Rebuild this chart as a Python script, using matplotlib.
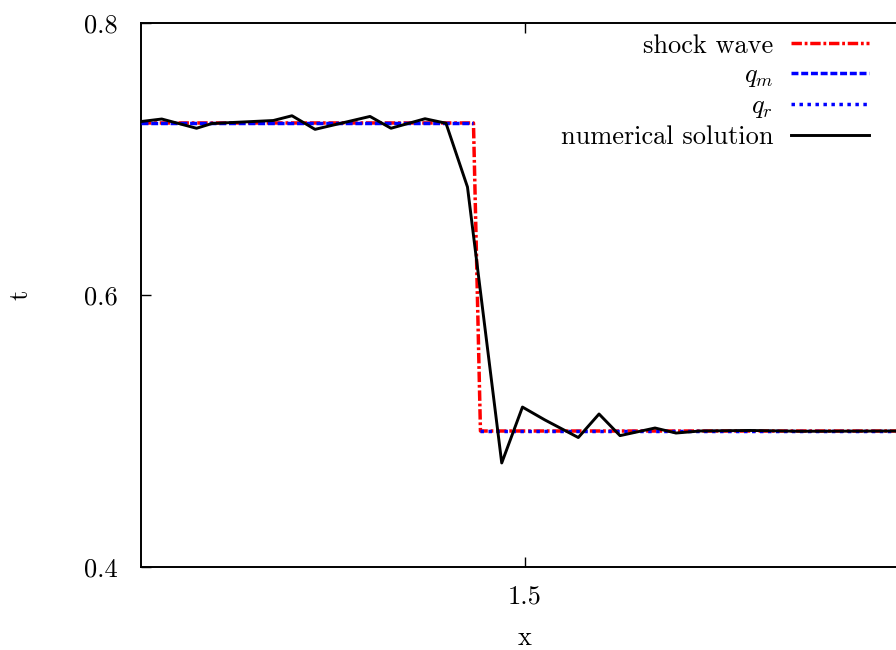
import numpy as np
import matplotlib
matplotlib.use("Agg")
import matplotlib.pyplot as plt

plt.rcParams['font.family'] = 'serif'
plt.rcParams['font.serif'] = ['cmr10']
plt.rcParams['mathtext.fontset'] = 'cm'
plt.rcParams['axes.formatter.use_mathtext'] = True

# shock wave (step)
shock_x = [1.0, 1.4329, 1.4420, 2.0]
shock_y = [0.7265, 0.7265, 0.5, 0.5]

# q_m (left state) and q_r (right state)
qm_x = [1.0, 1.4329]
qm_y = [0.7265, 0.7265]
qr_x = [1.4420, 2.0]
qr_y = [0.5, 0.5]

# numerical solution
num_x = [1.0009, 1.027, 1.0723, 1.0924, 1.1723, 1.1966, 1.2266, 1.2982, 1.3255,
         1.3698, 1.3971, 1.4251, 1.4697, 1.4967, 1.526, 1.5694, 1.5964, 1.6237,
         1.6693, 1.6966, 1.7279, 1.793, 1.858, 2.0]
num_y = [0.7276, 0.7294, 0.7226, 0.7261, 0.7283, 0.7318, 0.7218, 0.7313, 0.7226,
         0.7296, 0.7263, 0.6794, 0.4765, 0.5176, 0.5081, 0.4952, 0.5125, 0.4966,
         0.5022, 0.4985, 0.5, 0.5004, 0.4998, 0.5]

fig = plt.figure(figsize=(8.96, 6.5), dpi=100)
ax = fig.add_axes([141 / 896, 1 - 567 / 650, 768 / 896, 544 / 650])

ax.plot(shock_x, shock_y, color='red', lw=2.5, linestyle=(0, (3, 0.8, 0.8, 0.8)),
        label='shock wave', zorder=2)
ax.plot(qm_x, qm_y, color='blue', lw=2.5, linestyle=(0, (2, 0.8)),
        label='$q_m$', zorder=3)
ax.plot(qr_x, qr_y, color='blue', lw=2.5, linestyle=(0, (1, 1.3)),
        label='$q_r$', zorder=3)
ax.plot(num_x, num_y, color='black', lw=2.1, label='numerical solution', zorder=4)

ax.set_xlim(1.0, 2.0)
ax.set_ylim(0.4, 0.8)
ax.set_xticks([1.5])
ax.set_xticklabels(['1.5'])
ax.set_yticks([0.4, 0.6, 0.8])
ax.set_yticklabels(['0.4', '0.6', '0.8'])
ax.tick_params(direction='in', length=7, width=1.0, labelsize=19,
               top=True, right=True)
ax.tick_params(axis='y', pad=17)
ax.tick_params(axis='x', pad=13)
for s in ax.spines.values():
    s.set_linewidth(1.4)

ax.set_xlabel('x', fontsize=19, va='center')
ax.xaxis.set_label_coords(0.5, (567 - 638) / 544)
ax.set_ylabel('t', fontsize=19, va='center', ha='center')
ax.yaxis.set_label_coords((21 - 141) / 768, 0.5)

ax.legend(loc='upper right', bbox_to_anchor=(869 / 896, 1 - 34 / 650),
          bbox_transform=fig.transFigure, frameon=False, markerfirst=False,
          fontsize=19, handlelength=2.95, handletextpad=0.68, labelspacing=0.2,
          borderpad=0, borderaxespad=0)

fig.savefig('out.png', dpi=100)
